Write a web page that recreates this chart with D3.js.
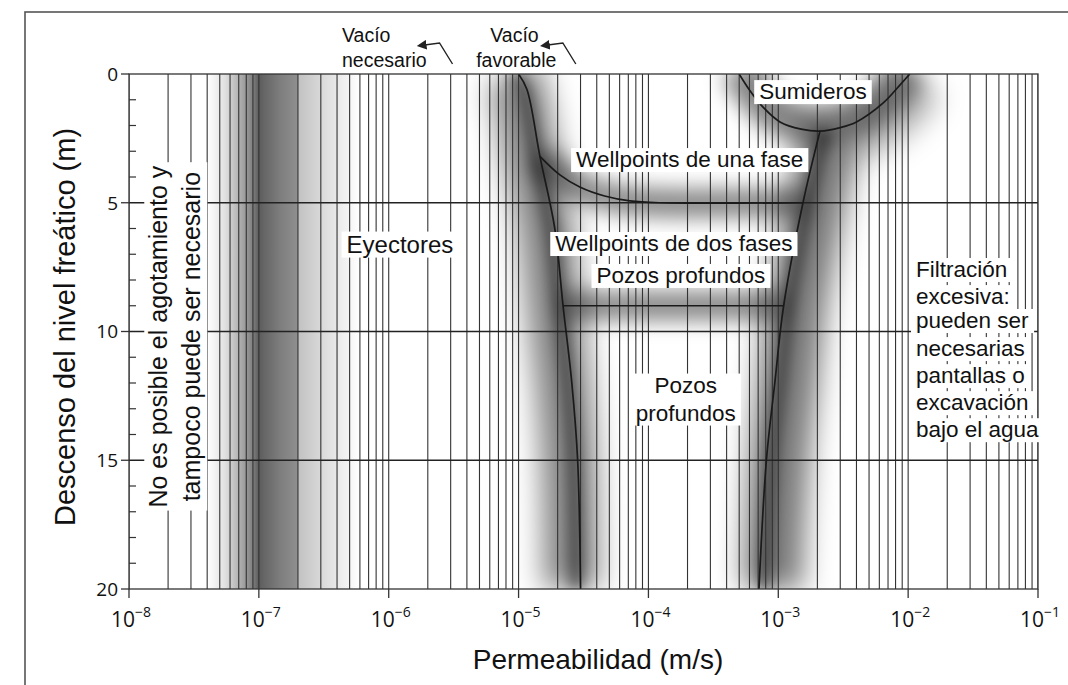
<!DOCTYPE html>
<html>
<head>
<meta charset="utf-8">
<script src="https://cdn.jsdelivr.net/npm/d3@7"></script>
<style>
  body { margin: 0; background: #fff; }
  svg { display: block; }
  text { font-family: "Liberation Sans", Arial, sans-serif; fill: #111; }
  .tick-label { font-family: "Open Sans", sans-serif; }
</style>
</head>
<body>
<svg id="chart" width="1068" height="685"></svg>
<script>
// --- data ---
const xDecades   = [1e-8, 1e-7, 1e-6, 1e-5, 1e-4, 1e-3, 1e-2, 1e-1];
const xTickExps  = ['−8', '−7', '−6', '−5', '−4', '−3', '−2', '−1'];
const depthTicks = [0, 5, 10, 15, 20];
const depthGrid  = [5, 10, 15];

// boundaries as [permeability (m/s), drawdown (m)]
const leftBoundary  = [[1e-5, 0], [1.16e-5, 0.6], [1.46e-5, 3.2], [1.9e-5, 6], [2.2e-5, 9],
                       [2.57e-5, 12], [2.85e-5, 15], [3.0e-5, 20]];
const rightBoundary = [[2.1e-3, 2.2], [1.55e-3, 5], [1.1e-3, 9], [9.4e-4, 12], [8.1e-4, 15], [7.1e-4, 20]];
const sumiderosArc  = [[5.0e-4, 0], [6.0e-4, 0.62], [7.6e-4, 1.28], [1.03e-3, 1.86], [1.5e-3, 2.14],
                       [2.1e-3, 2.22], [3.0e-3, 2.08], [4.0e-3, 1.86], [6.4e-3, 1.13], [8.5e-3, 0.47], [1.03e-2, 0]];
const unaFaseCurve  = [[1.46e-5, 3.2], [2.08e-5, 3.92], [2.96e-5, 4.39], [4.6e-5, 4.74], [7.2e-5, 4.93],
                       [1.22e-4, 5.0], [1.55e-3, 5.0]];
const nineMetreLine = [[2.2e-5, 9], [1.1e-3, 9]];

// darkness of the ejector column [permeability, darkness 0..1]
const ejectorBand = [[4.0e-8, 0], [5.5e-8, 0.12], [7e-8, 0.3], [9e-8, 0.5], [1e-7, 0.64], [1.1e-7, 0.6],
                     [1.5e-7, 0.5], [1.98e-7, 0.44], [2.02e-7, 0.24], [3e-7, 0.15], [4.5e-7, 0.06], [6e-7, 0]];

// region labels [lines, permeability, drawdown]
const regionLabels = [
  { lines: ['Eyectores'],               k: 1.22e-6, d: 6.6,  size: 24 },
  { lines: ['Sumideros'],               k: 1.85e-3, d: 0.66, size: 22.5 },
  { lines: ['Wellpoints de una fase'],  k: 2.08e-4, d: 3.3,  size: 22.5 },
  { lines: ['Wellpoints de dos fases'], k: 1.57e-4, d: 6.56, size: 22.5 },
  { lines: ['Pozos profundos'],         k: 1.78e-4, d: 7.8,  size: 22.5 },
  { lines: ['Pozos', 'profundos'],      k: 1.94e-4, d: 12.6, size: 22.5 }
];
const filtracionLines = ['Filtración', 'excesiva:', 'pueden ser', 'necesarias', 'pantallas o', 'excavación', 'bajo el agua'];
const filtracionDepths = [7.57, 8.62, 9.55, 10.64, 11.69, 12.74, 13.79];
const sideNote = ['No es posible el agotamiento y', 'tampoco puede ser necesario'];

// --- scales ---
const svg = d3.select('#chart');
const x = d3.scaleLog().domain([1e-8, 1e-1]).range([129, 1038]);
const y = d3.scaleLinear().domain([0, 20]).range([74, 589]);
const [xL, xR] = x.range();
const [yT, yB] = y.range();

const defs = svg.append('defs');
defs.append('clipPath').attr('id', 'plotClip').append('rect')
  .attr('x', xL).attr('y', yT).attr('width', xR - xL).attr('height', yB - yT);

// outer frame
svg.append('rect').attr('x', 25).attr('y', 12).attr('width', 1100).attr('height', 720)
  .attr('fill', 'none').attr('stroke', '#555').attr('stroke-width', 1.6);

const plot = svg.append('g').attr('clip-path', 'url(#plotClip)');

// ejector column shading
const g0 = x(ejectorBand[0][0]), g1 = x(ejectorBand[ejectorBand.length - 1][0]);
defs.append('linearGradient').attr('id', 'ejGrad').attr('gradientUnits', 'userSpaceOnUse')
  .attr('x1', g0).attr('x2', g1).attr('y1', 0).attr('y2', 0)
  .selectAll('stop').data(ejectorBand).join('stop')
  .attr('offset', d => (x(d[0]) - g0) / (g1 - g0))
  .attr('stop-color', '#000').attr('stop-opacity', d => d[1]);
plot.append('rect').attr('x', g0).attr('width', g1 - g0).attr('y', yT).attr('height', yB - yT)
  .attr('fill', 'url(#ejGrad)');

// fuzzy glow along boundaries
const curve = d3.line().x(d => x(d[0])).y(d => y(d[1])).curve(d3.curveCatmullRom.alpha(0.5));
const straight = d3.line().x(d => x(d[0])).y(d => y(d[1]));

[6, 10, 14].forEach(sd => {
  defs.append('filter').attr('id', 'blur' + sd).attr('filterUnits', 'userSpaceOnUse')
    .attr('x', 0).attr('y', 0).attr('width', 1068).attr('height', 685)
    .append('feGaussianBlur').attr('stdDeviation', sd);
});

const glows = [
  { data: leftBoundary,           gen: curve,    w: 56, sd: 14, op: 0.48, dx: -9, dy: 0 },
  { data: leftBoundary,           gen: curve,    w: 16, sd: 6,  op: 0.38, dx: -4, dy: 0 },
  { data: rightBoundary,          gen: curve,    w: 60, sd: 14, op: 0.52, dx: 13, dy: 0 },
  { data: rightBoundary,          gen: curve,    w: 16, sd: 6,  op: 0.38, dx: 5,  dy: 0 },
  { data: sumiderosArc,           gen: curve,    w: 40, sd: 10, op: 0.48, dx: 0,  dy: -6 },
  { data: sumiderosArc.slice(6),  gen: curve,    w: 44, sd: 14, op: 0.32, dx: 14, dy: 10 },
  { data: unaFaseCurve,           gen: curve,    w: 30, sd: 10, op: 0.45, dx: 0,  dy: 0 },
  { data: nineMetreLine,          gen: straight, w: 30, sd: 10, op: 0.45, dx: 0,  dy: 0 }
];
plot.append('g').selectAll('path').data(glows).join('path')
  .attr('d', d => d.gen(d.data))
  .attr('transform', d => `translate(${d.dx},${d.dy})`)
  .attr('fill', 'none').attr('stroke', '#000')
  .attr('stroke-opacity', d => d.op).attr('stroke-width', d => d.w)
  .attr('filter', d => `url(#blur${d.sd})`);

// grid
plot.append('g').selectAll('line').data(x.ticks()).join('line')
  .attr('x1', d => x(d)).attr('x2', d => x(d)).attr('y1', yT).attr('y2', yB)
  .attr('stroke', '#333').attr('stroke-width', 1.1);
plot.append('g').selectAll('line').data(depthGrid).join('line')
  .attr('x1', xL).attr('x2', xR).attr('y1', d => y(d)).attr('y2', d => y(d))
  .attr('stroke', '#222').attr('stroke-width', 1.3);

// boundary lines
plot.append('g').selectAll('path')
  .data([[leftBoundary, curve], [rightBoundary, curve], [sumiderosArc, curve], [unaFaseCurve, curve], [nineMetreLine, straight]])
  .join('path')
  .attr('d', d => d[1](d[0]))
  .attr('fill', 'none').attr('stroke', '#1a1a1a').attr('stroke-width', 1.7);

// plot border
svg.append('rect').attr('x', xL).attr('y', yT).attr('width', xR - xL).attr('height', yB - yT)
  .attr('fill', 'none').attr('stroke', '#333').attr('stroke-width', 1.3);

// y ticks: major outward, minor inward
svg.append('g').selectAll('line').data(depthTicks).join('line')
  .attr('x1', xL - 8).attr('x2', xL).attr('y1', d => y(d)).attr('y2', d => y(d))
  .attr('stroke', '#333').attr('stroke-width', 1.3);
svg.append('g').selectAll('line').data(d3.range(1, 20).filter(v => v % 5)).join('line')
  .attr('x1', xL).attr('x2', xL + 7).attr('y1', d => y(d)).attr('y2', d => y(d))
  .attr('stroke', '#333').attr('stroke-width', 1.2);
svg.append('g').selectAll('text').data(depthTicks).join('text')
  .attr('class', 'tick-label')
  .attr('x', xL - 11).attr('y', d => y(d)).attr('dy', '0.36em')
  .attr('text-anchor', 'end').attr('font-size', 19).text(d => d);

// x ticks
svg.append('g').selectAll('line').data(xDecades).join('line')
  .attr('x1', d => x(d)).attr('x2', d => x(d)).attr('y1', yB).attr('y2', yB + 9)
  .attr('stroke', '#333').attr('stroke-width', 1.3);
const xt = svg.append('g').selectAll('text').data(xDecades).join('text')
  .attr('class', 'tick-label')
  .attr('x', d => x(d) + 2).attr('y', yB + 38)
  .attr('text-anchor', 'middle').attr('font-size', 21);
xt.append('tspan').text('10');
xt.append('tspan').attr('font-size', 14).attr('dy', -10).text((d, i) => xTickExps[i]);

// labels with white boxes
function boxedText(parent, lines, cx, cy, size, gap, anchor) {
  const g = parent.append('g');
  const rect = g.append('rect').attr('fill', '#fff');
  const t = g.append('text').attr('font-size', size).attr('text-anchor', anchor || 'middle');
  lines.forEach((s, i) => {
    t.append('tspan').attr('x', cx)
      .attr('y', cy + (i - (lines.length - 1) / 2) * gap).attr('dy', '0.36em').text(s);
  });
  const b = t.node().getBBox();
  rect.attr('x', b.x - 5).attr('y', b.y + 1).attr('width', b.width + 10).attr('height', b.height - 1);
  return g;
}

const labelLayer = svg.append('g');
regionLabels.forEach(l => boxedText(labelLayer, l.lines, x(l.k), y(l.d), l.size, 28));
filtracionLines.forEach((s, i) => boxedText(labelLayer, [s], x(1.15e-2), y(filtracionDepths[i]), 22.5, 0, 'start'));

// rotated side note
const noteG = labelLayer.append('g')
  .attr('transform', `translate(${(x(1.69e-8) + x(3.0e-8)) / 2},${y(10.2)}) rotate(-90)`);
const noteRect = noteG.append('rect').attr('fill', '#fff');
const noteT = noteG.append('text').attr('font-size', 25).attr('text-anchor', 'middle');
sideNote.forEach((s, i) => noteT.append('tspan').attr('x', 0).attr('y', (i - 0.5) * 33).attr('dy', '0.36em').text(s));
const nb = noteT.node().getBBox();
noteRect.attr('x', nb.x - 3).attr('y', nb.y).attr('width', nb.width + 6).attr('height', nb.height + 2);

// vacuum notes above the plot
const vacNotes = svg.append('g').attr('font-size', 19.5);
vacNotes.append('text').attr('x', x(4.37e-7)).attr('y', 42).text('Vacío');
vacNotes.append('text').attr('x', x(4.37e-7)).attr('y', 67).text('necesario');
vacNotes.append('text').attr('x', x(9.3e-6)).attr('y', 42).attr('text-anchor', 'middle').text('Vacío');
vacNotes.append('text').attr('x', x(9.6e-6)).attr('y', 67).attr('text-anchor', 'middle').text('favorable');

defs.append('marker').attr('id', 'head').attr('viewBox', '0 0 10 10').attr('refX', 2).attr('refY', 5)
  .attr('markerWidth', 7).attr('markerHeight', 7).attr('orient', 'auto-start-reverse')
  .append('path').attr('d', 'M0,0 L10,5 L0,10 z').attr('fill', '#222');
[3.1e-6, 2.76e-5].forEach(k => {
  const px = x(k);
  svg.append('path')
    .attr('d', `M${px - 28},45 L${px - 13},43 L${px},64`)
    .attr('fill', 'none').attr('stroke', '#222').attr('stroke-width', 1.4)
    .attr('marker-start', 'url(#head)');
});

// axis titles
svg.append('text').attr('x', 598).attr('y', 669).attr('text-anchor', 'middle')
  .attr('font-size', 28).text('Permeabilidad (m/s)');
svg.append('text').attr('transform', `translate(75,327) rotate(-90)`)
  .attr('text-anchor', 'middle').attr('font-size', 29).text('Descenso del nivel freático (m)');
</script>
</body>
</html>
